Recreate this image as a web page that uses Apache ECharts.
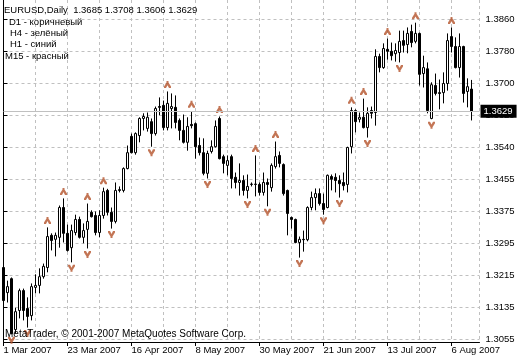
<!DOCTYPE html>
<html><head><meta charset="utf-8">
<script src="https://cdn.jsdelivr.net/npm/echarts@6/dist/echarts.min.js"></script>
<style>html,body{margin:0;padding:0;background:#fff}#c{width:520px;height:360px}</style>
</head><body><div id="c"></div>
<script>
const open = [
1.3236,1.3173,1.3208,1.3080,1.3128,1.3178,1.3133,1.3115,1.3186,1.3191,
1.3213,1.3236,1.3317,1.3307,1.3312,1.3387,1.3322,1.3286,1.3324,1.3357,
1.3312,1.3332,1.3375,1.3367,1.3324,1.3367,1.3430,1.3375,1.3352,1.3432,
1.3430,1.3485,1.3566,1.3525,1.3568,1.3611,1.3586,1.3603,1.3573,1.3641,
1.3644,1.3588,1.3636,1.3639,1.3606,1.3581,1.3551,1.3596,1.3598,1.3543,
1.3525,1.3473,1.3528,1.3540,1.3611,1.3515,1.3493,1.3515,1.3463,1.3450,
1.3455,1.3430,1.3445,1.3445,1.3445,1.3425,1.3450,1.3437,1.3490,1.3518,
1.3495,1.3430,1.3362,1.3357,1.3299,1.3307,1.3306,1.3387,1.3412,1.3422,
1.3397,1.3387,1.3465,1.3463,1.3455,1.3450,1.3445,1.3540,1.3631,1.3609,
1.3614,1.3588,1.3631,1.3626,1.3767,1.3739,1.3785,1.3780,1.3774,1.3777,
1.3807,1.3797,1.3830,1.3805,1.3825,1.3724,1.3736,1.3611,1.3694,1.3676,
1.3676,1.3699,1.3817,1.3792,1.3739,1.3792,1.3679,1.3685];
const high = [
1.3241,1.3203,1.3211,1.3135,1.3183,1.3183,1.3161,1.3196,1.3219,1.3234,
1.3246,1.3337,1.3322,1.3324,1.3392,1.3410,1.3344,1.3344,1.3369,1.3364,
1.3347,1.3397,1.3380,1.3377,1.3380,1.3437,1.3434,1.3387,1.3450,1.3440,
1.3488,1.3543,1.3573,1.3576,1.3614,1.3624,1.3626,1.3611,1.3641,1.3664,
1.3656,1.3679,1.3674,1.3669,1.3611,1.3621,1.3614,1.3629,1.3601,1.3563,
1.3561,1.3530,1.3556,1.3606,1.3616,1.3520,1.3518,1.3520,1.3475,1.3498,
1.3468,1.3470,1.3450,1.3518,1.3450,1.3475,1.3460,1.3498,1.3553,1.3528,
1.3498,1.3432,1.3364,1.3359,1.3314,1.3329,1.3390,1.3427,1.3435,1.3435,
1.3422,1.3470,1.3470,1.3473,1.3468,1.3475,1.3540,1.3639,1.3634,1.3626,
1.3661,1.3639,1.3641,1.3785,1.3774,1.3800,1.3812,1.3802,1.3800,1.3832,
1.3832,1.3840,1.3847,1.3852,1.3827,1.3769,1.3752,1.3702,1.3724,1.3709,
1.3727,1.3825,1.3840,1.3815,1.3825,1.3794,1.3712,1.3708];
const low = [
1.3148,1.3148,1.3068,1.3070,1.3108,1.3103,1.3085,1.3103,1.3171,1.3171,
1.3208,1.3224,1.3279,1.3264,1.3286,1.3299,1.3276,1.3249,1.3317,1.3309,
1.3297,1.3284,1.3362,1.3317,1.3312,1.3359,1.3367,1.3334,1.3347,1.3425,
1.3425,1.3483,1.3523,1.3520,1.3551,1.3581,1.3578,1.3540,1.3568,1.3619,
1.3581,1.3581,1.3586,1.3586,1.3556,1.3548,1.3530,1.3586,1.3510,1.3518,
1.3468,1.3460,1.3523,1.3538,1.3508,1.3473,1.3468,1.3435,1.3435,1.3417,
1.3417,1.3410,1.3440,1.3415,1.3417,1.3417,1.3390,1.3427,1.3485,1.3488,
1.3417,1.3317,1.3334,1.3297,1.3261,1.3276,1.3302,1.3380,1.3380,1.3392,
1.3369,1.3385,1.3430,1.3425,1.3412,1.3430,1.3425,1.3523,1.3576,1.3601,
1.3586,1.3563,1.3611,1.3593,1.3727,1.3736,1.3759,1.3757,1.3754,1.3752,
1.3777,1.3775,1.3790,1.3800,1.3694,1.3689,1.3624,1.3609,1.3669,1.3634,
1.3649,1.3681,1.3777,1.3737,1.3714,1.3651,1.3639,1.3606];
const close = [
1.3153,1.3188,1.3070,1.3125,1.3178,1.3128,1.3113,1.3188,1.3191,1.3213,
1.3239,1.3314,1.3304,1.3317,1.3387,1.3322,1.3279,1.3329,1.3357,1.3312,
1.3329,1.3352,1.3364,1.3324,1.3367,1.3427,1.3375,1.3352,1.3430,1.3430,
1.3485,1.3525,1.3525,1.3573,1.3611,1.3616,1.3614,1.3573,1.3636,1.3639,
1.3588,1.3649,1.3641,1.3601,1.3581,1.3551,1.3591,1.3593,1.3540,1.3525,
1.3473,1.3523,1.3540,1.3591,1.3510,1.3498,1.3505,1.3460,1.3450,1.3455,
1.3430,1.3440,1.3446,1.3446,1.3425,1.3450,1.3445,1.3493,1.3515,1.3498,
1.3422,1.3372,1.3357,1.3299,1.3307,1.3306,1.3387,1.3412,1.3422,1.3397,
1.3382,1.3468,1.3458,1.3455,1.3447,1.3442,1.3538,1.3631,1.3603,1.3614,
1.3588,1.3624,1.3624,1.3767,1.3739,1.3787,1.3780,1.3769,1.3782,1.3805,
1.3795,1.3825,1.3802,1.3825,1.3722,1.3739,1.3631,1.3696,1.3674,1.3674,
1.3699,1.3807,1.3792,1.3739,1.3792,1.3674,1.3691,1.3629];

const dateTickLabels = ['1 Mar 2007','23 Mar 2007','16 Apr 2007','8 May 2007','30 May 2007','21 Jun 2007','13 Jul 2007','6 Aug 2007'];
const dateTickStep = 16;
const priceTickValues = [1.3860,1.37795,1.3699,1.36185,1.3538,1.34575,1.3377,1.32965,1.3216,1.31355,1.3055];
const priceTickLabels = ['1.3860','1.3780','1.3700','1.3620','1.3540','1.3455','1.3375','1.3295','1.3215','1.3135','1.3055'];
const upFractals = [11,15,21,25,41,47,54,63,68,87,90,96,103,112];
const downFractals = [2,6,17,21,27,37,51,61,66,74,80,84,91,99,107];
const headerText = 'EURUSD,Daily  1.3685 1.3708 1.3606 1.3629';
const legendLines = ['D1 - коричневый','H4 - зелёный','H1 - синий','M15 - красный'];
const copyrightText = 'MetaTrader, \u00a9 2001-2007 MetaQuotes Software Corp.';
const lastPriceLabel = '1.3629';

const FONT = '"Liberation Sans", Arial, sans-serif';
const yMax = 1.3860 + 19.5/3975;
const yMin = yMax - 342/3975;
const xMax = 119;
const arrowColor = '#B4532A';

const candles = open.map((o, i) => [i, o, close[i], low[i], high[i]]);
const upPts = upFractals.map(i => [i, high[i]]);
const downPts = downFractals.map(i => [i, low[i]]);

const chart = echarts.init(document.getElementById('c'), null, {renderer: 'canvas'});
const grey = '#C0C0C0';
const txt = (s, x, y, size) => ({type: 'text', x: x, y: y, z: 10, silent: true,
  style: {text: s, fill: '#000', font: size + 'px ' + FONT, verticalAlign: 'middle'}});
chart.setOption({
  animation: false,
  backgroundColor: '#fff',
  textStyle: {fontFamily: FONT},
  grid: {left: 3.5, top: 0, width: 476, height: 342, containLabel: false},
  xAxis: [{
    type: 'value', min: 0, max: xMax, interval: 8,
    axisLine: {show: true, onZero: false, lineStyle: {color: '#000', width: 1}},
    axisTick: {show: false}, axisLabel: {show: false},
    splitLine: {show: true, lineStyle: {color: grey, type: [3, 3], width: 1}}
  }, {
    type: 'value', position: 'bottom', min: 0, max: xMax, interval: dateTickStep,
    axisLine: {show: false, onZero: false},
    axisTick: {show: true, length: 4, lineStyle: {color: '#000'}},
    axisLabel: {
      show: true, align: 'left', margin: 3, color: '#000', fontSize: 9.5, fontFamily: FONT,
      showMinLabel: true, showMaxLabel: false,
      formatter: v => (v % dateTickStep === 0 && dateTickLabels[v / dateTickStep]) ? dateTickLabels[v / dateTickStep] : ''
    },
    splitLine: {show: false}
  }],
  yAxis: [{
    type: 'value', position: 'right', min: yMin, max: yMax, scale: true,
    axisLine: {show: true, lineStyle: {color: '#000', width: 1}},
    axisTick: {show: true, length: 4, customValues: priceTickValues, lineStyle: {color: '#000'}},
    axisLabel: {
      show: true, customValues: priceTickValues, margin: 6, color: '#000', fontSize: 9.5, fontFamily: FONT,
      formatter: v => {
        let best = 0;
        priceTickValues.forEach((t, j) => { if (Math.abs(t - v) < Math.abs(priceTickValues[best] - v)) best = j; });
        return priceTickLabels[best];
      }
    },
    splitLine: {show: true, lineStyle: {color: grey, type: [3, 3], width: 1}}
  }, {
    type: 'value', position: 'left', offset: 1, min: yMin, max: yMax, scale: true,
    axisLine: {show: true, lineStyle: {color: '#000', width: 1}},
    axisTick: {show: false}, axisLabel: {show: false}, splitLine: {show: false}
  }],
  series: [{
    type: 'candlestick', xAxisIndex: 0, yAxisIndex: 0,
    data: candles, encode: {x: 0, y: [1, 2, 3, 4]},
    barWidth: 2, clip: false,
    itemStyle: {color: '#fff', color0: '#000', borderColor: '#000', borderColor0: '#000', borderColorDoji: '#000', borderWidth: 1},
    markLine: {
      silent: true, symbol: ['none', 'none'], animation: false, precision: 4,
      lineStyle: {color: grey, type: 'solid', width: 1},
      label: {show: true, position: 'end', formatter: lastPriceLabel, color: '#fff', backgroundColor: '#000',
              padding: [2, 4, 1, 3], distance: 1, fontSize: 9.5, fontFamily: FONT},
      data: [{yAxis: close[close.length - 1]}]
    }
  }, {
    type: 'scatter', xAxisIndex: 0, yAxisIndex: 0, data: upPts, silent: true, z: 4,
    symbol: 'path://M2.5,0 L4.5,0 L4.5,1.5 L7,5.5 L7,7 L5,7 L3.5,4.2 L2,7 L0,7 L0,5.5 L2.5,1.5 Z',
    symbolSize: [7, 7], symbolOffset: [0, -7],
    itemStyle: {color: arrowColor}
  }, {
    type: 'scatter', xAxisIndex: 0, yAxisIndex: 0, data: downPts, silent: true, z: 4,
    symbol: 'path://M0,0 L2,0 L3.5,2.8 L5,0 L7,0 L7,1.5 L4.5,5.5 L4.5,7 L2.5,7 L2.5,5.5 L0,1.5 Z',
    symbolSize: [7, 7], symbolOffset: [0, 6],
    itemStyle: {color: arrowColor}
  }],
  graphic: [
    txt(headerText, 4, 10, 9.5),
    txt(legendLines[0], 9, 22, 9.5),
    txt(legendLines[1], 10, 33, 9.5),
    txt(legendLines[2], 10, 44, 9.5),
    txt(legendLines[3], 5, 56, 9.5),
    txt(copyrightText, 5, 334, 10)
  ]
});
</script>
</body></html>
